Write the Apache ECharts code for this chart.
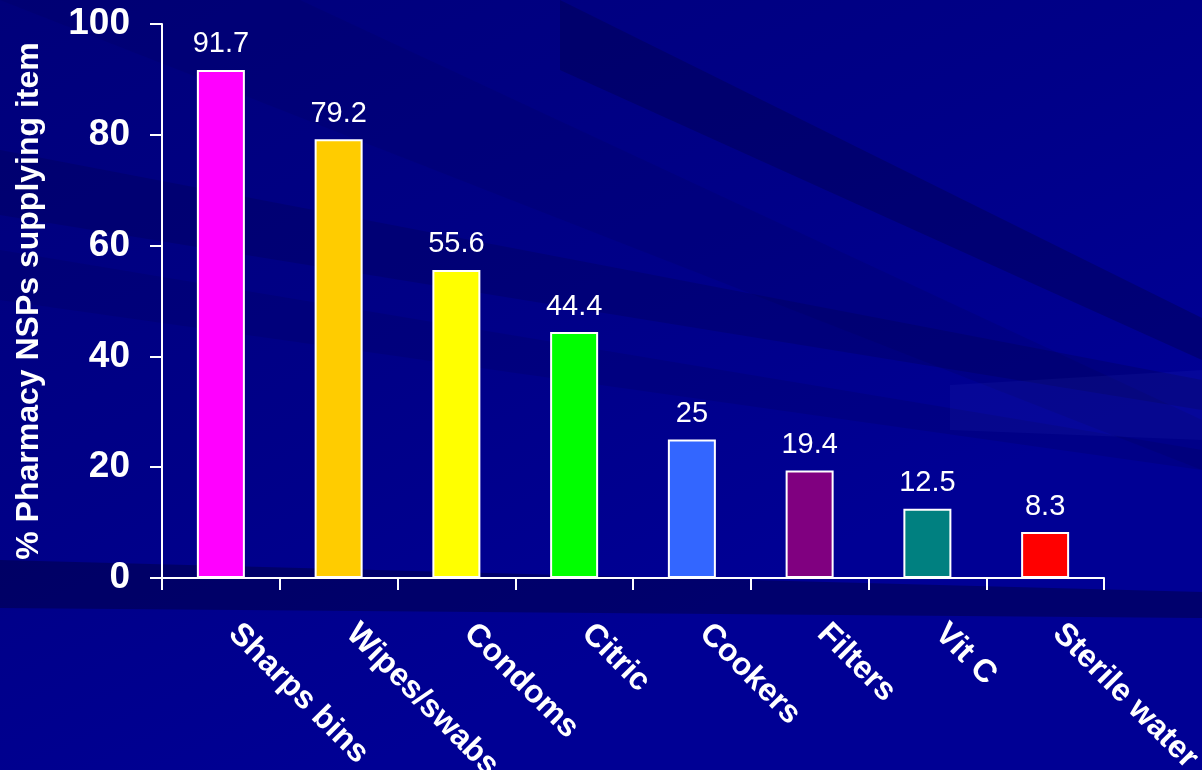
<!DOCTYPE html>
<html>
<head>
<meta charset="utf-8">
<script src="https://cdn.jsdelivr.net/npm/echarts@6/dist/echarts.min.js"></script>
<style>
html,body{margin:0;padding:0;background:#000088;}
#chart{width:1202px;height:770px;}
</style>
</head>
<body>
<div id="chart"></div>
<script>
const categories = ['Sharps bins','Wipes/swabs','Condoms','Citric','Cookers','Filters','Vit C','Sterile water'];
const values = [91.7, 79.2, 55.6, 44.4, 25, 19.4, 12.5, 8.3];
const valueLabels = ['91.7','79.2','55.6','44.4','25','19.4','12.5','8.3'];
const barColors = ['#FF00FF','#FFCC00','#FFFF00','#00FF00','#3366FF','#800080','#008080','#FF0000'];
const yTicks = [0, 20, 40, 60, 80, 100];
const yAxisTitle = '% Pharmacy NSPs supplying item';

const chart = echarts.init(document.getElementById('chart'));
const font = 'Arial, "Liberation Sans", sans-serif';

chart.setOption({
  backgroundColor: {
    type: 'linear', x: 0, y: 0, x2: 0.3, y2: 1,
    colorStops: [
      {offset: 0, color: '#00007A'},
      {offset: 0.6, color: '#000088'},
      {offset: 1, color: '#000094'}
    ]
  },
  graphic: [
    {type: 'polygon', silent: true, z: -10, shape: {points: [[0,0],[300,0],[1202,420],[1202,470]]}, style: {fill: 'rgba(0,0,90,0.2)'}},
    {type: 'polygon', silent: true, z: -10, shape: {points: [[560,0],[560,70],[1202,360],[1202,318]]}, style: {fill: 'rgba(0,0,70,0.35)'}},
    {type: 'polygon', silent: true, z: -10, shape: {points: [[0,150],[0,215],[1202,410],[1202,380]]}, style: {fill: 'rgba(0,0,70,0.25)'}},
    {type: 'polygon', silent: true, z: -10, shape: {points: [[0,250],[0,300],[1202,470],[1202,450]]}, style: {fill: 'rgba(0,0,80,0.18)'}},
    {type: 'polygon', silent: true, z: -10, shape: {points: [[0,560],[1202,592],[1202,618],[0,608]]}, style: {fill: 'rgba(0,0,50,0.4)'}},
    {type: 'polygon', silent: true, z: -10, shape: {points: [[950,385],[1202,370],[1202,440],[950,430]]}, style: {fill: 'rgba(100,120,255,0.06)'}}
  ],
  grid: {left: 162, right: 98, top: 24, bottom: 192, containLabel: false, outerBoundsMode: 'none'},
  xAxis: {
    type: 'category',
    data: categories,
    axisLine: {lineStyle: {color: '#ffffff', width: 2}},
    axisTick: {show: true, length: 12, lineStyle: {color: '#ffffff', width: 2}},
    axisLabel: {
      rotate: -45, interval: 0, margin: 38, padding: [0, 0, 0, 18],
      color: '#ffffff', fontFamily: font, fontWeight: 'bold', fontSize: 32
    }
  },
  yAxis: {
    type: 'value', min: 0, max: 100, interval: 20,
    name: yAxisTitle,
    nameLocation: 'middle', nameGap: 117, nameRotate: 90,
    nameTextStyle: {color: '#ffffff', fontFamily: font, fontWeight: 'bold', fontSize: 32},
    axisLine: {show: true, lineStyle: {color: '#ffffff', width: 2}},
    axisTick: {show: true, length: 12, lineStyle: {color: '#ffffff', width: 2}},
    axisLabel: {
      color: '#ffffff', fontFamily: font, fontWeight: 'bold', fontSize: 37, margin: 32,
      formatter: function (v) { return yTicks.indexOf(v) >= 0 ? String(v) : ''; }
    },
    splitLine: {show: false}
  },
  series: [{
    type: 'bar',
    data: values.map((v, i) => ({value: v, itemStyle: {color: barColors[i]}})),
    barWidth: 48,
    itemStyle: {borderColor: '#ffffff', borderWidth: 2},
    label: {
      show: true, position: 'top', distance: 11,
      color: '#ffffff', fontFamily: font, fontSize: 29,
      formatter: function (p) { return valueLabels[p.dataIndex]; }
    }
  }],
  animation: false
});
</script>
</body>
</html>
